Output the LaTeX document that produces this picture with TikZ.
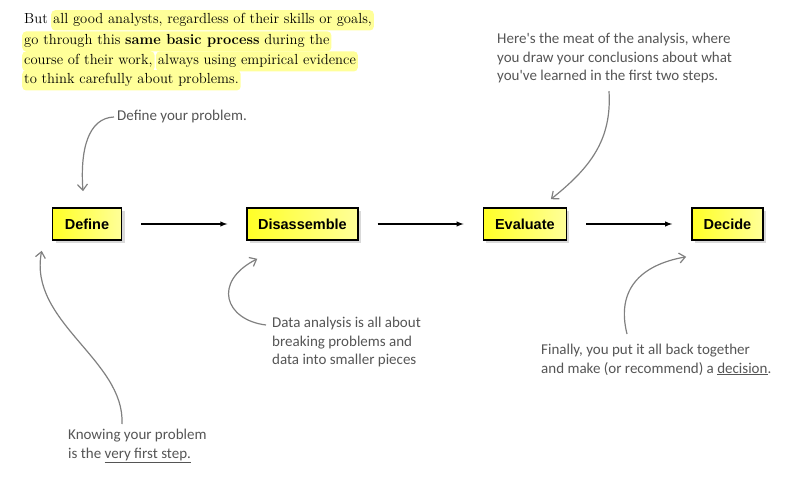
\documentclass[tikz,border=0pt]{standalone}
\usepackage{fontspec}
\setsansfont{Liberation Sans}
\newfontfamily\handfont{Carlito}
\usetikzlibrary{positioning,shadows,arrows.meta}
\definecolor{hlyellow}{HTML}{FFFF99}
\definecolor{notegray}{HTML}{555555}
\definecolor{handgray}{HTML}{808080}

\begin{document}
\begin{tikzpicture}[x=1pt, y=-1pt, node distance=124pt,
    block/.style={rectangle, draw, line width=1.6pt, left color=yellow!85, right color=yellow!40, minimum height=32pt, inner xsep=11pt, font=\sffamily\bfseries\fontsize{14.5}{16}\selectfont, drop shadow={shadow xshift=3pt, shadow yshift=-3pt, opacity=0.3}},
    hl/.style={fill=hlyellow, rounded corners=4pt, inner xsep=2pt, inner ysep=3.5pt, font=\fontsize{14.6}{18}\selectfont},
    plain/.style={inner xsep=2pt, inner ysep=3.5pt, font=\fontsize{14.6}{18}\selectfont},
    note/.style={align=left, text=notegray, inner sep=0pt, font=\handfont\fontsize{15}{18.5}\selectfont},
    line/.style={draw, line width=1.4pt, -latex, shorten <=19pt, shorten >=19pt},
    hand/.style={draw=handgray, line width=1.2pt, -{Straight Barb[length=6pt,width=10pt]}}]
    \useasboundingbox (0,0) rectangle (800,484);

    % intro text
    \node [plain, anchor=base west] (but) at (22,24) {But};
    \node [hl, base right=1pt of but] (line1) {all good analysts, regardless of their skills or goals,};
    \node [hl, anchor=base west] (line2) at (22,45) {go through this \textbf{same basic process} during the};
    \node [hl, anchor=base west] (line3a) at (22,65) {course of their work,};
    \node [hl, base right=1pt of line3a] (line3b) {always using empirical evidence};
    \node [hl, anchor=base west] (line4) at (22,84) {to think carefully about problems.};

    % the four steps
    \node [block, minimum width=69pt] (define) at (87,224) {Define};
    \node [block, minimum width=110pt, right=of define] (disassemble) {Disassemble};
    \node [block, minimum width=83pt, right=of disassemble] (evaluate) {Evaluate};
    \node [block, minimum width=71pt, right=of evaluate] (decide) {Decide};

    \path [line] (define) -- (disassemble);
    \path [line] (disassemble) -- (evaluate);
    \path [line] (evaluate) -- (decide);

    % handwritten notes
    \node [note, anchor=west] (definenote) at (117,117) {Define your problem.};
    \node [note, anchor=north west] (evalnote) at (497,33) {Here's the meat of the analysis, where\\you draw your conclusions about what\\you've learned in the first two steps.};
    \node [note, anchor=north west] (disnote) at (272,317) {Data analysis is all about\\breaking problems and\\data into smaller pieces};
    \node [note, anchor=north west] (knownote) at (68,429) {Knowing your problem\\is the \underline{very first step.}};
    \node [note, anchor=north west] (decnote) at (541,344) {Finally, you put it all back together\\and make (or recommend) a \underline{decision}.};

    \path [hand] ([xshift=-3pt]definenote.west) .. controls (88,118) and (80,150) .. ([xshift=-4pt, yshift=16pt]define.north);
    \path [hand] ([shift={(112pt,-8pt)}]evalnote.south west) .. controls (612,140) and (590,168) .. ([shift={(26pt,8pt)}]evaluate.north);
    \path [hand] ([shift={(-6pt,-8pt)}]disnote.north west) .. controls (225,320) and (212,282) .. ([shift={(11pt,-18pt)}]disassemble.south west);
    \path [hand] ([shift={(54pt,5pt)}]knownote.north west) .. controls (125,360) and (28,322) .. ([shift={(-10pt,-10pt)}]define.south west);
    \path [hand] ([shift={(86pt,10pt)}]decnote.north west) .. controls (616,290) and (640,265) .. ([shift={(-5pt,-16pt)}]decide.south west);
\end{tikzpicture}
\end{document}
